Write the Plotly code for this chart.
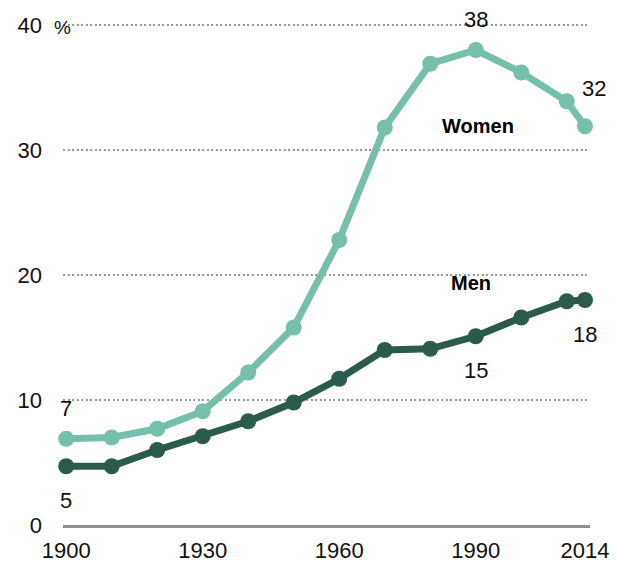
import plotly.graph_objects as go

years = [1900, 1910, 1920, 1930, 1940, 1950, 1960, 1970, 1980, 1990, 2000, 2010, 2014]
women = [6.9, 7.0, 7.7, 9.1, 12.2, 15.8, 22.8, 31.8, 36.9, 38.0, 36.2, 33.9, 31.9]
men = [4.7, 4.7, 6.0, 7.1, 8.3, 9.8, 11.7, 14.0, 14.1, 15.1, 16.6, 17.9, 18.0]

x_ticks = [1900, 1930, 1960, 1990, 2014]
y_ticks = [0, 10, 20, 30, 40]

WOMEN_COLOR = "#76c0ab"
MEN_COLOR = "#2b5b4c"
FONT = "Liberation Sans, Arial, sans-serif"

fig = go.Figure()

for name, vals, color in [("Women", women, WOMEN_COLOR), ("Men", men, MEN_COLOR)]:
    fig.add_trace(go.Scatter(
        x=years, y=vals, name=name, mode="lines+markers",
        line=dict(color=color, width=7),
        marker=dict(color=color, size=16),
        cliponaxis=False, hoverinfo="skip"
    ))

# value labels next to selected points
point_labels = [
    (1900, women[0], "7", 0, 30),
    (1900, men[0], "5", 0, -34),
    (1990, women[9], "38", 0, 31),
    (2014, women[-1], "32", 9, 38),
    (1990, men[9], "15", 0, -34),
    (2014, men[-1], "18", 0, -34),
]
for x, y, txt, dx, dy in point_labels:
    fig.add_annotation(x=x, y=y, text=txt, showarrow=False,
                       xshift=dx, yshift=dy,
                       font=dict(size=22, color="#111", family=FONT))

# series labels
fig.add_annotation(x=1990.5, y=31.9, text="<b>Women</b>", showarrow=False,
                   font=dict(size=20, color="#000", family=FONT))
fig.add_annotation(x=1989, y=19.4, text="<b>Men</b>", showarrow=False,
                   font=dict(size=20, color="#000", family=FONT))

# percent sign next to the top tick
fig.add_annotation(xref="paper", x=-0.02, y=39.8, text="%", showarrow=False,
                   font=dict(size=19, color="#111", family=FONT))

fig.update_xaxes(
    range=[1899.3, 2015.1], tickvals=x_ticks, ticktext=[str(v) for v in x_ticks],
    showgrid=False, zeroline=False, showline=True, linecolor="#8f8f8f",
    linewidth=3, ticks="", ticklabelstandoff=4, automargin=False,
    tickfont=dict(size=22, color="#111", family=FONT)
)
fig.update_yaxes(
    range=[0, 40.24], tickvals=y_ticks, showgrid=True, gridcolor="#999",
    gridwidth=2, griddash="2px,2.5px", zeroline=False, ticks="",
    ticklabelstandoff=20, automargin=False,
    tickfont=dict(size=22, color="#111", family=FONT)
)

fig.update_layout(
    width=618, height=565,
    paper_bgcolor="white", plot_bgcolor="white",
    margin=dict(t=22, b=40, l=63, r=28),
    showlegend=False,
    font=dict(family=FONT)
)

# drop the default page margin so the figure sits at the window corner
fig.write_html("out.html", config={"displayModeBar": False},
               post_script="document.body.style.margin='0';")
